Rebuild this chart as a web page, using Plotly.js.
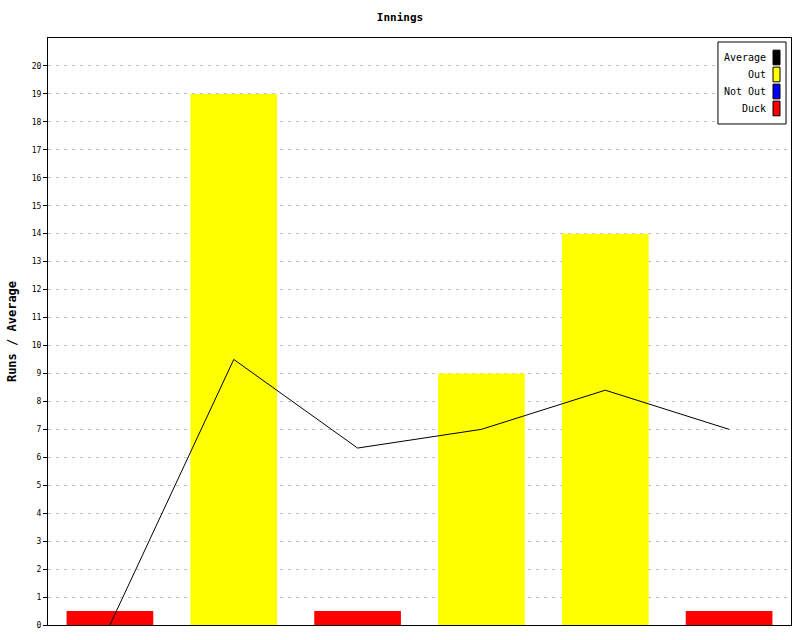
<!DOCTYPE html>
<html>
<head>
<meta charset="utf-8">
<script src="https://cdn.plot.ly/plotly-3.0.1.min.js"></script>
<style>
html,body{margin:0;padding:0;background:#fff;}
#chart{width:800px;height:640px;}
</style>
</head>
<body>
<div id="chart"></div>
<script>
// Data
const innings = [1, 2, 3, 4, 5, 6];
const runs = [0, 19, 0, 9, 14, 0];
const status = ['Duck', 'Out', 'Duck', 'Out', 'Out', 'Duck'];
const average = [0, 9.5, 6.33, 7, 8.4, 7];
const duckMarkerHeight = 0.5;
const legendNames = ['Average', 'Out', 'Not Out', 'Duck'];
const legendColors = ['#000000', '#ffff00', '#0000ff', '#ff0000'];
const yTicks = [0,1,2,3,4,5,6,7,8,9,10,11,12,13,14,15,16,17,18,19,20];

const FONT = 'DejaVu Sans Mono, Liberation Mono, monospace';

const outY = runs.map((r, i) => status[i] === 'Out' ? r : null);
const notOutY = runs.map((r, i) => status[i] === 'Not Out' ? r : null);
const duckY = status.map(s => s === 'Duck' ? duckMarkerHeight : null);

const traces = [
  {type: 'bar', x: innings, y: outY, name: 'Out', width: 0.7,
   marker: {color: legendColors[1], line: {width: 0}}, showlegend: false, hoverinfo: 'skip'},
  {type: 'bar', x: innings, y: notOutY, name: 'Not Out', width: 0.7,
   marker: {color: legendColors[2], line: {width: 0}}, showlegend: false, hoverinfo: 'skip'},
  {type: 'bar', x: innings, y: duckY, name: 'Duck', width: 0.7,
   marker: {color: legendColors[3], line: {width: 0}}, showlegend: false, hoverinfo: 'skip'},
  {type: 'scatter', mode: 'lines', x: innings, y: average, name: 'Average',
   line: {color: legendColors[0], width: 1}, showlegend: false, hoverinfo: 'skip'}
];

// Custom legend (text right-aligned, swatch on the right)
const shapes = [];
const annotations = [];
const L = {x0: 0.9017, x1: 0.9933, y0: 0.8535, y1: 0.9932, top: 0.9668, rowH: 0.02896,
           sx0: 0.9758, sx1: 0.9852, sh: 0.0125, tx: 0.9690};
shapes.push({type: 'rect', xref: 'paper', yref: 'paper', x0: L.x0, x1: L.x1,
  y0: L.y0, y1: L.y1, line: {color: '#000', width: 1}, fillcolor: '#fff', layer: 'above'});
legendNames.forEach((n, i) => {
  const yc = L.top - i * L.rowH;
  shapes.push({type: 'rect', xref: 'paper', yref: 'paper',
    x0: L.sx0, x1: L.sx1, y0: yc - L.sh, y1: yc + L.sh,
    fillcolor: legendColors[i], line: {color: '#000', width: 1}, layer: 'above'});
  annotations.push({xref: 'paper', yref: 'paper', x: L.tx, y: yc,
    xanchor: 'right', yanchor: 'middle', text: n, showarrow: false,
    font: {family: FONT, size: 10, color: '#000'}});
});

const layout = {
  width: 800, height: 640,
  margin: {l: 48, r: 9, t: 38, b: 15, pad: 0},
  paper_bgcolor: '#fff', plot_bgcolor: '#fff',
  title: {text: '<b>Innings</b>', x: 0.5, xanchor: 'center', y: 0.973, yanchor: 'middle',
    font: {family: FONT, size: 11, color: '#000'}},
  showlegend: false,
  barmode: 'overlay',
  xaxis: {range: [0.5, 6.5], showticklabels: false, ticks: '', showgrid: false,
    zeroline: false, showline: true, linecolor: '#000', linewidth: 1, mirror: true, fixedrange: true},
  yaxis: {range: [0, 21], tickvals: yTicks, ticktext: yTicks.map(String),
    ticks: 'outside', ticklen: 4, tickcolor: '#000', tickwidth: 1,
    tickfont: {family: FONT, size: 8, color: '#000'},
    showgrid: true, gridcolor: '#c0c0c0', gridwidth: 1, griddash: '3px,5px',
    zeroline: false, showline: true, linecolor: '#000', linewidth: 1, mirror: true,
    title: {text: '<b>Runs / Average</b>', standoff: 12, font: {family: FONT, size: 12, color: '#000'}},
    fixedrange: true},
  shapes: shapes,
  annotations: annotations
};

Plotly.newPlot('chart', traces, layout, {displayModeBar: false, staticPlot: true});
</script>
</body>
</html>
